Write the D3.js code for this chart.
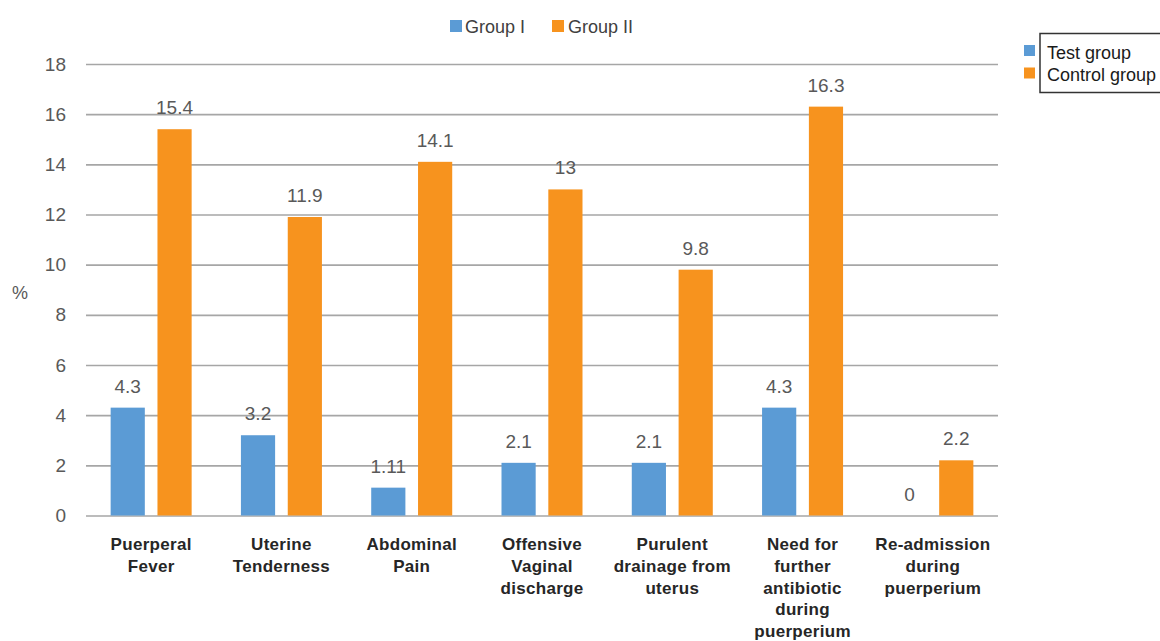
<!DOCTYPE html>
<html>
<head>
<meta charset="utf-8">
<script src="https://cdn.jsdelivr.net/npm/d3@7"></script>
<style>
  body { margin: 0; background: #fff; }
  svg { display: block; font-family: "Liberation Sans", Arial, sans-serif; }
</style>
</head>
<body>
<svg id="chart" width="1160" height="641"></svg>
<script>
(function(){

  // DATA ////////////////////////////////////////////////////////////////////

  var categories = [
    "Puerperal\nFever",
    "Uterine\nTenderness",
    "Abdominal\nPain",
    "Offensive\nVaginal\ndischarge",
    "Purulent\ndrainage from\nuterus",
    "Need for\nfurther\nantibiotic\nduring\npuerperium",
    "Re-admission\nduring\npuerperium"
  ];
  var seriesNames = ["Group I", "Group II"];
  var sideLegend = ["Test group", "Control group"];
  var group1 = [4.3, 3.2, 1.11, 2.1, 2.1, 4.3, 0];
  var group2 = [15.4, 11.9, 14.1, 13, 9.8, 16.3, 2.2];
  var group1Labels = ["4.3", "3.2", "1.11", "2.1", "2.1", "4.3", "0"];
  var group2Labels = ["15.4", "11.9", "14.1", "13", "9.8", "16.3", "2.2"];
  var yTicks = [0, 2, 4, 6, 8, 10, 12, 14, 16, 18];

  // SETUP ///////////////////////////////////////////////////////////////////

  var colors = ["#5b9bd5", "#f7931e"];
  var left = 86, right = 998, top = 64, bottom = 515.5;

  var svg = d3.select("#chart");

  var x = d3.scaleBand().domain(d3.range(categories.length)).range([left, right]);
  var y = d3.scaleLinear().domain([0, 18]).range([bottom, top]);
  // two bars inside each band
  var x1 = d3.scaleBand().domain([0, 1]).range([-40.5, 40.5]).paddingInner(0.27);

  // GRID ////////////////////////////////////////////////////////////////////

  var yAxis = svg.append("g")
    .attr("transform", "translate(" + left + ",0)")
    .call(d3.axisLeft(y).tickValues(yTicks).tickSize(-(right - left)).tickPadding(20));

  yAxis.select(".domain").remove();
  yAxis.selectAll(".tick line").attr("stroke", "#a6a6a6").attr("stroke-width", 1.6);
  yAxis.selectAll(".tick text")
    .attr("fill", "#595959")
    .style("font-size", "19px")
    .style("font-family", "'Liberation Sans', Arial, sans-serif");

  svg.append("text")
    .attr("x", 20).attr("y", 299)
    .attr("text-anchor", "middle")
    .attr("fill", "#595959")
    .style("font-size", "18px")
    .text("%");

  // BARS ////////////////////////////////////////////////////////////////////

  var series = [group1, group2];
  var labels = [group1Labels, group2Labels];

  series.forEach(function(values, s){
    var g = svg.append("g");

    g.selectAll("rect")
      .data(values)
      .enter()
      .append("rect")
      .attr("x", function(d, i){ return x(i) + x.bandwidth() / 2 + x1(s); })
      .attr("width", x1.bandwidth())
      .attr("y", function(d){ return y(d); })
      .attr("height", function(d){ return bottom - y(d); })
      .attr("fill", colors[s]);

    g.selectAll("text")
      .data(values)
      .enter()
      .append("text")
      .attr("x", function(d, i){ return x(i) + x.bandwidth() / 2 + x1(s) + x1.bandwidth() / 2; })
      .attr("y", function(d){ return y(d) - 15; })
      .attr("text-anchor", "middle")
      .attr("fill", "#595959")
      .style("font-size", "19px")
      .text(function(d, i){ return labels[s][i]; });
  });

  // CATEGORY LABELS /////////////////////////////////////////////////////////

  var cat = svg.append("g").selectAll("text")
    .data(categories)
    .enter()
    .append("text")
    .attr("text-anchor", "middle")
    .attr("fill", "#262626")
    .style("font-size", "17px")
    .style("font-weight", "bold")
    .style("letter-spacing", "0.3px");

  cat.each(function(d, i){
    var t = d3.select(this);
    d.split("\n").forEach(function(line, k){
      t.append("tspan")
        .attr("x", x(i) + x.bandwidth() / 2)
        .attr("y", 550 + k * 21.8)
        .text(line);
    });
  });

  // LEGENDS /////////////////////////////////////////////////////////////////

  var topLegend = [[450, 465], [552, 568]];
  seriesNames.forEach(function(name, s){
    svg.append("rect")
      .attr("x", topLegend[s][0]).attr("y", 20)
      .attr("width", 12).attr("height", 12)
      .attr("fill", colors[s]);
    svg.append("text")
      .attr("x", topLegend[s][1]).attr("y", 33)
      .attr("fill", "#404040")
      .style("font-size", "18px")
      .text(name);
  });

  svg.append("rect")
    .attr("x", 1040).attr("y", 33.5)
    .attr("width", 130).attr("height", 59)
    .attr("fill", "none")
    .attr("stroke", "#333")
    .attr("stroke-width", 1.5);

  sideLegend.forEach(function(name, s){
    svg.append("rect")
      .attr("x", 1024).attr("y", 45 + s * 22.5)
      .attr("width", 11).attr("height", 11)
      .attr("fill", colors[s]);
    svg.append("text")
      .attr("x", 1047).attr("y", 58.5 + s * 22)
      .attr("fill", "#1a1a1a")
      .style("font-size", "18px")
      .text(name);
  });

})();
</script>
</body>
</html>
